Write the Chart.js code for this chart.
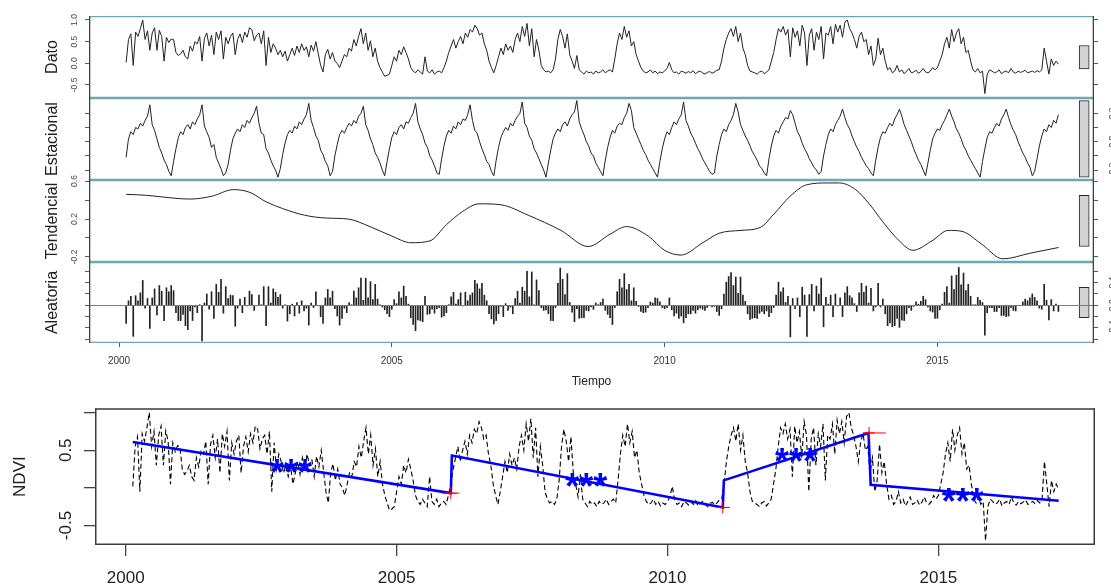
<!DOCTYPE html>
<html lang="es">
<head>
<meta charset="utf-8">
<title>NDVI - descomposición y quiebres</title>
<script src="https://cdn.jsdelivr.net/npm/chart.js@4.4.1/dist/chart.umd.min.js"></script>
<style>
    html, body { margin: 0; padding: 0; background: #fff; }
    #page { position: relative; width: 1111px; height: 587px; overflow: hidden; }
    #page canvas { position: absolute; left: 0; }
</style>
</head>
<body>
<div id="page">
    <canvas id="dato" width="1111" height="98" style="top:0px"></canvas>
    <canvas id="estacional" width="1111" height="82" style="top:98px"></canvas>
    <canvas id="tendencial" width="1111" height="102" style="top:170px"></canvas>
    <canvas id="aleatoria" width="1111" height="133" style="top:262px"></canvas>
    <canvas id="ndvi" width="1111" height="192" style="top:395px"></canvas>
</div>
<script>
// Serie NDVI de compuestos de 16 días (23 por año), empieza en el 4º compuesto de 2000
const FREQ = 23;
const START = 2000 + 3 / FREQ;

const dato = [
    0.02, 0.55, 0.68, -0.05, 0.72, 0.62, 0.80, 1.00, 0.55, 0.75, 0.30, 0.70, 0.82, 0.30, 0.76, 0.62, 0.05, 0.60, 0.48, 0.56,
    0.55, 0.25, 0.18, 0.22, 0.30, 0.15, 0.10, 0.40, 0.28, 0.50, 0.45, 0.62, 0.05, 0.58, 0.70, 0.40, 0.65, 0.20, 0.72, 0.55, 0.75, 0.10, 0.60,
    0.45, 0.62, 0.70, 0.20, 0.55, 0.68, 0.48, 0.72, 0.60, 0.82, 0.78, 0.52, 0.65, 0.70, 0.45, 0.75, -0.05, 0.60, 0.25, 0.45, 0.35, 0.20, 0.30,
    0.15, 0.28, 0.05, 0.20, 0.35, 0.18, 0.40, 0.25, 0.45, 0.30, 0.38, 0.15, 0.42, 0.28, 0.50, 0.22, -0.05, -0.20, 0.20, 0.32, 0.10, 0.25, 0.05,
    0.00, -0.10, 0.05, 0.20, 0.15, 0.35, 0.28, 0.55, 0.40, 0.62, 0.80, 0.45, 0.70, 0.30, 0.52, 0.15, 0.35, 0.05, -0.10, -0.20, -0.30, -0.28, -0.25,
    -0.05, 0.15, 0.05, 0.30, 0.20, 0.38, 0.25, 0.10, -0.10, -0.18, -0.22, -0.15, -0.20, -0.25, 0.15, -0.18, -0.22, -0.15, -0.25, -0.20, -0.18, -0.22, -0.10,
    0.05, 0.25, 0.40, 0.55, 0.35, 0.50, 0.62, 0.45, 0.70, 0.60, 0.78, 0.72, 0.88, 0.80, 0.65, 0.70, 0.45, 0.30, 0.05, -0.10, -0.22, -0.05, 0.15,
    0.35, 0.20, 0.45, 0.30, 0.40, 0.25, 0.55, 0.70, 0.50, 0.85, 0.62, 0.92, 0.40, 0.80, 0.15, 0.55, 0.30, -0.05, -0.15, -0.20, -0.18, -0.22, -0.15,
    0.10, 0.55, 0.78, 0.62, 0.35, 0.68, 0.20, 0.05, -0.12, 0.18, -0.15, -0.20, -0.25, -0.18, -0.22, -0.20, -0.25, -0.18, -0.22, -0.20, -0.15, -0.22, -0.18,
    -0.15, -0.20, 0.10, 0.45, 0.70, 0.55, 0.85, 0.60, 0.75, 0.40, 0.50, 0.20, 0.05, -0.10, -0.18, -0.22, -0.20, -0.15, -0.22, -0.18, -0.24, -0.20, -0.22,
    -0.18, -0.12, 0.02, -0.15, -0.22, -0.20, -0.25, -0.18, -0.20, -0.23, -0.19, -0.22, -0.17, -0.24, -0.20, -0.18, -0.22, -0.25, -0.21, -0.19, -0.23, -0.20, -0.16,
    -0.15, 0.05, 0.35, 0.55, 0.70, 0.80, 0.62, 0.85, 0.50, 0.70, 0.35, 0.20, -0.05, -0.18, -0.20, -0.22, -0.25, -0.20, -0.18, -0.24, -0.20, -0.15, 0.05,
    0.25, 0.55, 0.80, 0.72, 0.85, 0.65, 0.78, 0.15, 0.82, 0.60, 0.75, 0.40, 0.88, 0.70, -0.05, 0.65, 0.80, 0.30, 0.72, 0.55, 0.85, 0.10, 0.70,
    0.65, 0.85, 0.45, 0.90, 0.72, 0.88, 0.60, 0.95, 1.00, 0.80, 0.70, 0.55, 0.35, 0.62, 0.72, 0.50, 0.55, 0.20, 0.40, -0.05, 0.10, 0.58, 0.20,
    0.35, 0.05, -0.15, -0.10, -0.22, -0.18, -0.05, -0.20, -0.15, -0.24, -0.18, -0.12, -0.22, -0.20, -0.16, -0.23, -0.19, -0.12, -0.20, -0.22, -0.18, -0.10, -0.15,
    -0.10, 0.05, 0.20, 0.45, 0.60, 0.35, 0.78, 0.50, 0.70, 0.80, 0.45, 0.60, 0.25, 0.30, 0.05, -0.15, -0.20, -0.12, -0.22, -0.18, -0.70, -0.25, -0.15,
    -0.18, -0.22, -0.20, -0.15, -0.24, -0.20, -0.18, -0.22, -0.12, -0.20, -0.23, -0.18, -0.21, -0.19, -0.16, -0.22, -0.20, -0.18, -0.21, -0.17, -0.20, -0.15, 0.35,
    0.05, -0.25, 0.10, -0.05, 0.05, -0.02
];

const estacional = [
    -0.11, 0.02, 0.07, 0.05, 0.10, 0.09, 0.13, 0.11, 0.15, 0.18, 0.26, 0.12, 0.08, 0.02, -0.04, -0.08, -0.13, -0.16, -0.21, -0.24,
    -0.14, -0.05, 0.03, 0.07, 0.05, 0.10, 0.12, 0.09, 0.14, 0.12, 0.16, 0.19, 0.26, 0.11, 0.07, 0.03, -0.04, -0.02, -0.11, -0.15, -0.19, -0.24, -0.22,
    -0.16, -0.06, 0.02, 0.06, 0.09, 0.07, 0.12, 0.10, 0.15, 0.13, 0.17, 0.20, 0.25, 0.13, 0.06, 0.05, -0.05, -0.08, -0.13, -0.17, -0.20, -0.25, -0.19,
    -0.09, -0.01, 0.05, 0.08, 0.06, 0.11, 0.09, 0.14, 0.12, 0.16, 0.19, 0.27, 0.15, 0.10, 0.04, 0.01, -0.06, -0.09, -0.14, -0.17, -0.24, -0.21, -0.10,
    -0.02, 0.05, 0.08, 0.06, 0.10, 0.13, 0.11, 0.15, 0.13, 0.18, 0.20, 0.25, 0.12, 0.08, 0.02, -0.02, -0.08, -0.11, -0.15, -0.20, -0.24, -0.14, -0.05,
    0.03, 0.07, 0.05, 0.10, 0.12, 0.09, 0.14, 0.13, 0.17, 0.20, 0.27, 0.14, 0.09, 0.05, -0.01, -0.04, -0.10, -0.13, -0.17, -0.22, -0.23, -0.12, -0.03,
    0.04, 0.08, 0.06, 0.11, 0.09, 0.14, 0.12, 0.16, 0.15, 0.19, 0.26, 0.15, 0.08, 0.06, 0.00, -0.05, -0.09, -0.14, -0.16, -0.21, -0.24, -0.13, -0.04,
    0.03, 0.07, 0.10, 0.08, 0.13, 0.11, 0.15, 0.18, 0.20, 0.28, 0.13, 0.10, 0.04, 0.01, -0.05, -0.08, -0.12, -0.16, -0.20, -0.25, -0.15, -0.06, 0.02,
    0.06, 0.09, 0.07, 0.12, 0.14, 0.11, 0.16, 0.19, 0.21, 0.29, 0.14, 0.09, 0.05, 0.00, -0.03, -0.08, -0.10, -0.15, -0.18, -0.21, -0.24, -0.13, -0.04,
    0.03, 0.08, 0.06, 0.11, 0.13, 0.12, 0.17, 0.20, 0.27, 0.22, 0.10, 0.06, 0.02, -0.02, -0.06, -0.09, -0.13, -0.16, -0.19, -0.22, -0.25, -0.14, -0.05,
    0.02, 0.07, 0.05, 0.10, 0.14, 0.12, 0.16, 0.19, 0.28, 0.15, 0.11, 0.06, 0.03, -0.01, -0.05, -0.08, -0.12, -0.15, -0.18, -0.21, -0.23, -0.22, -0.10,
    -0.02, 0.05, 0.09, 0.07, 0.12, 0.15, 0.19, 0.27, 0.21, 0.12, 0.08, 0.04, 0.01, -0.03, -0.07, -0.10, -0.13, -0.17, -0.19, -0.22, -0.24, -0.12, -0.03,
    0.04, 0.08, 0.06, 0.11, 0.14, 0.17, 0.16, 0.22, 0.19, 0.13, 0.07, 0.04, -0.01, -0.05, -0.08, -0.12, -0.15, -0.18, -0.20, -0.23, -0.21, -0.10, -0.02,
    0.05, 0.09, 0.07, 0.12, 0.15, 0.18, 0.23, 0.17, 0.12, 0.09, 0.04, 0.00, -0.04, -0.07, -0.11, -0.14, -0.17, -0.19, -0.22, -0.24, -0.13, -0.04, 0.03,
    0.07, 0.06, 0.10, 0.13, 0.11, 0.16, 0.19, 0.23, 0.18, 0.12, 0.08, 0.04, 0.00, -0.05, -0.09, -0.13, -0.16, -0.20, -0.24, -0.15, -0.06, 0.02, 0.06,
    0.09, 0.08, 0.12, 0.15, 0.19, 0.23, 0.18, 0.14, 0.09, 0.06, 0.02, -0.03, -0.06, -0.10, -0.13, -0.16, -0.19, -0.22, -0.25, -0.14, -0.05, 0.03, 0.07,
    0.06, 0.10, 0.13, 0.11, 0.16, 0.19, 0.23, 0.17, 0.12, 0.08, 0.05, 0.00, -0.04, -0.08, -0.11, -0.15, -0.18, -0.24, -0.21, -0.12, -0.03, 0.04, 0.09,
    0.07, 0.12, 0.10, 0.15, 0.13, 0.19
];

const aleatoria = [
    -0.32, 0.08, 0.16, -0.55, 0.17, 0.08, 0.22, 0.44, -0.05, 0.12, -0.41, 0.13, 0.29, -0.17, 0.35, 0.25, -0.27, 0.31, 0.24, 0.35,
    0.26, -0.13, -0.27, -0.27, -0.16, -0.36, -0.43, -0.10, -0.27, -0.03, -0.13, 0.01, -0.63, 0.04, 0.20, -0.07, 0.24, -0.23, 0.37, 0.23, 0.46, -0.14, 0.33,
    0.12, 0.18, 0.17, -0.37, -0.05, 0.11, -0.13, 0.14, -0.01, 0.25, 0.19, -0.09, 0.00, 0.18, 0.01, 0.33, -0.36, 0.33, 0.04, 0.29, 0.23, 0.14, 0.19,
    -0.05, 0.01, -0.28, -0.15, 0.02, -0.19, 0.05, -0.14, 0.08, -0.10, -0.05, -0.35, 0.04, -0.04, 0.24, -0.01, -0.20, -0.32, 0.13, 0.28, 0.13, 0.25, -0.06,
    -0.19, -0.35, -0.23, -0.05, -0.13, 0.05, 0.01, 0.25, 0.13, 0.31, 0.48, 0.09, 0.48, 0.13, 0.42, 0.10, 0.37, 0.11, 0.01, -0.03, -0.08, -0.15, -0.20,
    -0.07, 0.10, 0.03, 0.24, 0.13, 0.34, 0.16, 0.02, -0.22, -0.34, -0.45, -0.26, -0.27, -0.29, 0.16, -0.16, -0.15, -0.07, -0.14, -0.06, -0.04, -0.21, -0.19,
    -0.13, 0.01, 0.15, 0.23, 0.02, 0.10, 0.22, -0.01, 0.23, 0.08, 0.18, 0.22, 0.44, 0.38, 0.29, 0.39, 0.18, 0.08, -0.15, -0.24, -0.33, -0.27, -0.15,
    -0.02, -0.20, 0.03, -0.09, -0.03, -0.15, 0.12, 0.25, 0.04, 0.32, 0.25, 0.60, 0.15, 0.59, 0.01, 0.45, 0.26, -0.04, -0.09, -0.08, -0.15, -0.27, -0.27,
    -0.04, 0.39, 0.66, 0.46, 0.19, 0.56, 0.05, -0.12, -0.29, -0.06, -0.23, -0.22, -0.22, -0.09, -0.10, -0.03, -0.07, 0.04, 0.01, 0.05, 0.11, -0.09, -0.16,
    -0.22, -0.34, -0.04, 0.24, 0.46, 0.31, 0.56, 0.28, 0.37, 0.08, 0.31, 0.07, -0.02, -0.11, -0.13, -0.12, -0.04, 0.06, 0.04, 0.13, 0.12, 0.06, -0.04,
    -0.06, -0.04, 0.13, -0.08, -0.19, -0.14, -0.23, -0.19, -0.31, -0.22, -0.15, -0.15, -0.09, -0.14, -0.08, -0.05, -0.07, -0.09, -0.04, 0.00, -0.03, -0.02, -0.11,
    -0.18, -0.06, 0.20, 0.41, 0.51, 0.58, 0.35, 0.50, 0.21, 0.50, 0.18, 0.07, -0.15, -0.25, -0.23, -0.22, -0.23, -0.14, -0.11, -0.15, -0.10, -0.20, -0.13,
    -0.04, 0.18, 0.41, 0.24, 0.31, 0.05, 0.16, -0.56, 0.12, -0.06, 0.13, -0.20, 0.32, 0.18, -0.55, 0.19, 0.37, -0.10, 0.34, 0.20, 0.48, -0.38, 0.14,
    0.02, 0.18, -0.20, 0.20, -0.01, 0.13, -0.20, 0.22, 0.33, 0.17, 0.13, 0.03, -0.11, 0.22, 0.39, 0.23, 0.34, 0.04, 0.30, -0.10, -0.03, 0.39, -0.03,
    0.11, -0.15, -0.36, -0.31, -0.38, -0.36, -0.23, -0.39, -0.26, -0.27, -0.15, -0.04, -0.09, -0.02, 0.06, 0.02, 0.07, 0.16, 0.10, -0.03, -0.10, -0.12, -0.23,
    -0.23, -0.08, 0.02, 0.23, 0.33, 0.04, 0.52, 0.28, 0.53, 0.67, 0.36, 0.57, 0.26, 0.37, 0.16, 0.01, 0.01, 0.14, 0.09, 0.05, -0.53, -0.13, -0.04,
    -0.04, -0.11, -0.11, -0.04, -0.18, -0.18, -0.20, -0.19, -0.04, -0.09, -0.10, 0.00, 0.00, 0.06, 0.11, 0.08, 0.13, 0.20, 0.14, 0.08, -0.05, -0.07, 0.37,
    0.09, -0.26, 0.10, -0.10, 0.02, -0.11
];

// componente tendencial (curva suave)
const tendT = [2000.13, 2000.5, 2001.0, 2001.3, 2001.7, 2002.1, 2002.4, 2002.7, 2003.0, 2003.4, 2003.8, 2004.2, 2004.6,
    2005.0, 2005.35, 2005.7, 2006.0, 2006.3, 2006.6, 2007.0, 2007.5, 2008.1, 2008.6, 2009.0, 2009.3, 2009.7, 2010.0,
    2010.3, 2010.7, 2011.0, 2011.4, 2011.75, 2012.0, 2012.3, 2012.6, 2013.0, 2013.2, 2013.5, 2013.75, 2014.0, 2014.3,
    2014.55, 2014.9, 2015.2, 2015.45, 2015.8, 2016.2, 2016.7, 2017.22];
const tendV = [0.46, 0.45, 0.42, 0.41, 0.44, 0.51, 0.48, 0.38, 0.31, 0.24, 0.21, 0.20, 0.12,
    0.02, -0.05, -0.03, 0.14, 0.28, 0.36, 0.35, 0.24, 0.08, -0.09, 0.04, 0.12, 0.02, -0.13,
    -0.18, -0.05, 0.05, 0.08, 0.11, 0.25, 0.44, 0.56, 0.58, 0.58, 0.51, 0.36, 0.17, -0.03,
    -0.13, -0.03, 0.08, 0.07, -0.06, -0.22, -0.16, -0.10];

// barras de rango (misma longitud en todos los paneles)
const rangoCentro = [0.14, 0.02, 0.18, 0.05];
const rangoMitad = 0.27;
const rangoX = 2017.69;

// BFAST: tendencia por tramos, quiebres y significancia
const ajusteT = [2000.13, 2006.0, 2006.02, 2011.02, 2011.04, 2013.71, 2013.75, 2017.22];
const ajusteV = [0.61, -0.07, 0.43, -0.26, 0.10, 0.73, 0.04, -0.17];
const quiebreT = [2006.0, 2011.02, 2013.72];
const quiebreV = [-0.07, -0.26, 0.73];
const quiebreLo = [2005.84, 2010.91, 2013.61];
const quiebreHi = [2006.16, 2011.15, 2014.03];
const signifT = [2003.05, 2008.50, 2012.37, 2015.45];
const signifV = [0.32, 0.134, 0.457, -0.07];

const anios = [2000, 2005, 2010, 2015];

const FONT = "'Liberation Sans', Arial, Helvetica, sans-serif";
const INK = '#222';
const tiempo = i => START + i / FREQ;
const puntos = vals => vals.map((v, i) => ({ x: tiempo(i), y: v }));

// marco de cada panel (y línea de cero opcional)
const framePlugin = {
    id: 'frame',
    afterDatasetsDraw(chart, args, o) {
        const { left, right, top, bottom } = chart.chartArea;
        const ctx = chart.ctx;
        const w = o.width;
        ctx.save();
        ctx.lineWidth = w;
        if (o.zero !== undefined) {
            const y0 = Math.round(chart.scales.y.getPixelForValue(o.zero)) + 0.5;
            ctx.strokeStyle = o.zeroColor;
            ctx.lineWidth = 1.2;
            ctx.beginPath();
            ctx.moveTo(left, y0);
            ctx.lineTo(right, y0);
            ctx.stroke();
            ctx.lineWidth = w;
        }
        ctx.strokeStyle = o.h;
        ctx.beginPath();
        ctx.moveTo(left, top + w / 2); ctx.lineTo(right, top + w / 2);
        ctx.moveTo(left, bottom - w / 2); ctx.lineTo(right, bottom - w / 2);
        ctx.stroke();
        ctx.strokeStyle = o.v;
        ctx.beginPath();
        ctx.moveTo(left + w / 2, top); ctx.lineTo(left + w / 2, bottom);
        ctx.moveTo(right - w / 2, top); ctx.lineTo(right - w / 2, bottom);
        ctx.stroke();
        ctx.restore();
    }
};

// asteriscos azules de significancia
const signifPlugin = {
    id: 'signif',
    afterDatasetsDraw(chart) {
        const { ctx, scales: { x, y } } = chart;
        ctx.save();
        ctx.fillStyle = '#0000ff';
        ctx.font = `bold 36px ${FONT}`;
        ctx.textAlign = 'center';
        ctx.textBaseline = 'alphabetic';
        signifT.forEach((t, i) => {
            ctx.fillText('***', x.getPixelForValue(t), y.getPixelForValue(signifV[i]) + 21);
        });
        ctx.restore();
    }
};

function ejeY(pos, p) {
    return {
        type: 'linear',
        position: pos,
        min: p.min,
        max: p.max,
        afterBuildTicks: s => { s.ticks = p.ticks.map(v => ({ value: v })); },
        afterFit: s => {
            s.width = pos === 'left' ? 89 : 17;
            // el área del panel no se encoge por las etiquetas giradas
            s.paddingTop = 0;
            s.paddingBottom = 0;
        },
        border: { display: false },
        grid: { drawOnChartArea: false, tickLength: 4, color: '#5a5a5a' },
        ticks: {
            display: p.side === pos,
            autoSkip: false,
            minRotation: 90,
            maxRotation: 90,
            crossAlign: 'center',
            // a la derecha las etiquetas quedan casi fuera del lienzo, como en el original
            padding: pos === 'left' ? 3 : 7,
            color: '#4a4a4a',
            font: { family: FONT, size: 8.5 },
            callback: v => p.labels.includes(v) ? v.toFixed(1) : ''
        },
        title: pos === 'left'
            ? { display: true, text: p.title, color: INK, font: { family: FONT, size: 16 }, padding: { top: 43, bottom: 0 } }
            : { display: false }
    };
}

function panel(id, p) {
    const serie = p.bars
        ? { type: 'bar', data: p.data, backgroundColor: INK, barThickness: 1, grouped: false }
        : { type: 'line', data: p.data, borderColor: INK, borderWidth: 1, pointRadius: 0,
            tension: p.smooth ? 0.4 : 0, cubicInterpolationMode: p.smooth ? 'monotone' : 'default' };
    const rango = {
        type: 'bar',
        data: [{ x: rangoX, y: [p.mid - rangoMitad, p.mid + rangoMitad] }],
        backgroundColor: '#d3d3d3', borderColor: '#2a2a2a', borderWidth: 1,
        borderSkipped: false, barThickness: 10, grouped: false
    };
    new Chart(document.getElementById(id), {
        type: 'line',
        data: { datasets: [serie, rango] },
        options: {
            responsive: false,
            animation: false,
            events: [],
            layout: { padding: { top: p.top || 0, right: 0, bottom: p.bottom || 0, left: 0 } },
            scales: {
                x: {
                    type: 'linear', min: 1999.45, max: 2017.87, offset: false, display: !!p.showX,
                    afterBuildTicks: s => { s.ticks = anios.map(v => ({ value: v })); },
                    afterFit: s => {
                        if (p.showX) s.height = 52;
                        s.paddingLeft = 0;
                        s.paddingRight = 0;
                    },
                    border: { display: false },
                    grid: { drawOnChartArea: false, tickLength: 4, color: '#5a5a5a', offset: false },
                    ticks: { autoSkip: false, maxRotation: 0, padding: 8, color: '#333',
                        font: { family: FONT, size: 10 }, callback: v => String(v) },
                    title: { display: true, text: 'Tiempo', color: INK,
                        font: { family: FONT, size: 12 }, padding: { top: 0, bottom: 6 } }
                },
                y: ejeY('left', p),
                y2: ejeY('right', p)
            },
            plugins: {
                legend: { display: false },
                tooltip: { enabled: false },
                frame: { h: '#6aa8b3', v: '#4b3b50', width: 1.3, zero: p.zero, zeroColor: '#4e8f99' }
            }
        },
        plugins: [framePlugin]
    });
}

panel('dato', {
    title: 'Dato', data: puntos(dato), min: -0.801, max: 1.092, top: 16,
    ticks: [-0.5, 0, 0.5, 1], labels: [-0.5, 0, 0.5, 1], side: 'left', mid: rangoCentro[0]
});
panel('estacional', {
    title: 'Estacional', data: puntos(estacional), min: -0.27, max: 0.308,
    ticks: [-0.2, -0.1, 0, 0.1, 0.2], labels: [-0.2, 0, 0.2], side: 'right', mid: rangoCentro[1]
});
// este lienzo sobresale 10 px arriba y abajo para que quepan las etiquetas extremas
panel('tendencial', {
    title: 'Tendencial', data: tendT.map((t, i) => ({ x: t, y: tendV[i] })), smooth: true,
    min: -0.253, max: 0.611, ticks: [-0.2, 0, 0.2, 0.4, 0.6], labels: [-0.2, 0.2, 0.6],
    side: 'left', mid: rangoCentro[2], top: 10, bottom: 10
});
panel('aleatoria', {
    title: 'Aleatoria', data: puntos(aleatoria), bars: true, min: -0.667, max: 0.766,
    ticks: [-0.6, -0.4, -0.2, 0, 0.2, 0.4, 0.6], labels: [-0.4, 0, 0.4], side: 'right',
    mid: rangoCentro[3], zero: 0, showX: true
});

// panel inferior: NDVI con la tendencia segmentada de BFAST
const intervalos = [];
quiebreT.forEach((t, i) => {
    intervalos.push({ x: quiebreLo[i], y: quiebreV[i] }, { x: quiebreHi[i], y: quiebreV[i] }, { x: quiebreHi[i], y: null });
});

new Chart(document.getElementById('ndvi'), {
    type: 'line',
    data: {
        datasets: [
            { label: 'NDVI', data: puntos(dato), borderColor: '#000', borderWidth: 1.1,
              borderDash: [5, 3], pointRadius: 0, order: 4 },
            { label: 'Tendencia', data: ajusteT.map((t, i) => ({ x: t, y: ajusteV[i] })),
              borderColor: '#0000ff', borderWidth: 2.6, pointRadius: 0, order: 3 },
            { label: 'Intervalo', data: intervalos, borderColor: '#ff0000', borderWidth: 1,
              pointRadius: 0, spanGaps: false, order: 2 },
            { label: 'Quiebre', data: quiebreT.map((t, i) => ({ x: t, y: quiebreV[i] })), showLine: false,
              pointStyle: 'cross', pointRadius: 6, borderColor: '#ff0000', borderWidth: 1, order: 1 }
        ]
    },
    options: {
        responsive: false,
        animation: false,
        events: [],
        layout: { padding: { top: 9.5, right: 16, bottom: 0, left: 0 } },
        scales: {
            x: {
                type: 'linear', min: 1999.433, max: 2017.89,
                afterBuildTicks: s => { s.ticks = anios.map(v => ({ value: v })); },
                afterFit: s => { s.height = 42; },
                border: { display: false },
                grid: { drawOnChartArea: false, tickLength: 11, color: '#444', lineWidth: 1.3 },
                ticks: { autoSkip: false, maxRotation: 0, padding: 12, color: INK,
                    font: { family: FONT, size: 17 }, callback: v => String(v) }
            },
            y: {
                type: 'linear', min: -0.759, max: 1.059,
                afterBuildTicks: s => { s.ticks = [-0.5, 0, 0.5, 1].map(v => ({ value: v })); },
                afterFit: s => { s.width = 95; },
                border: { display: false },
                grid: { drawOnChartArea: false, tickLength: 11, color: '#444', lineWidth: 1.3 },
                ticks: { autoSkip: false, minRotation: 90, maxRotation: 90, crossAlign: 'center', padding: 3,
                    color: INK, font: { family: FONT, size: 17 },
                    callback: v => (v === 0.5 || v === -0.5) ? String(v) : '' },
                title: { display: true, text: 'NDVI', color: INK, font: { family: FONT, size: 17 },
                    padding: { top: 10, bottom: 0 } }
            }
        },
        plugins: {
            legend: { display: false },
            tooltip: { enabled: false },
            frame: { h: '#3c3c3c', v: '#3c3c3c', width: 1.5 }
        }
    },
    plugins: [framePlugin, signifPlugin]
});
</script>
</body>
</html>
